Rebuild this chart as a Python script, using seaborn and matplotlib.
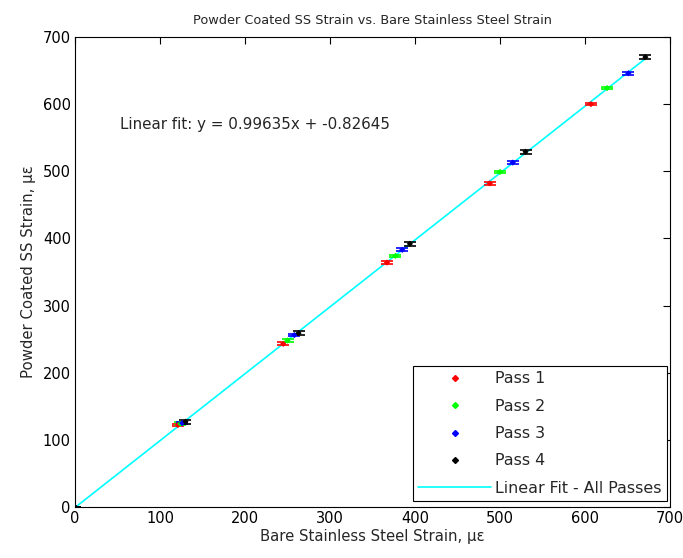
import numpy as np
import pandas as pd
import matplotlib
matplotlib.use("Agg")
import matplotlib.pyplot as plt
import seaborn as sns
from matplotlib.lines import Line2D

# bare steel strain (x) and powder coated strain (y), microstrain, per pass
bare_p1 = [0, 121, 245, 367, 488, 607]
coat_p1 = [0, 122, 243, 364, 482, 600]
bare_p2 = [0, 124, 250, 377, 500, 626]
coat_p2 = [0, 124, 248, 374, 499, 624]
bare_p3 = [0, 126, 258, 385, 515, 651]
coat_p3 = [0, 125, 256, 383, 513, 646]
bare_p4 = [0, 130, 263, 394, 530, 671]
coat_p4 = [0, 127, 259, 392, 529, 670]
err_p1 = [0, 2, 2, 2, 2, 2]
err_p2 = [0, 2, 2, 2, 2, 2]
err_p3 = [0, 2, 2, 2, 2, 2]
err_p4 = [0, 3, 3, 3, 3, 3]
pass_names = ["Pass 1", "Pass 2", "Pass 3", "Pass 4"]
pass_colors = ["#ff0000", "#00ff00", "#0000ff", "#000000"]
fit_slope = 0.99635
fit_icpt = -0.82645

bare = [bare_p1, bare_p2, bare_p3, bare_p4]
coat = [coat_p1, coat_p2, coat_p3, coat_p4]
errs = [err_p1, err_p2, err_p3, err_p4]

rows = []
for name, xs, ys, es in zip(pass_names, bare, coat, errs):
    for x, y, e in zip(xs, ys, es):
        rows.append({"bare": x, "coat": y, "err": e, "pass": name})
df = pd.DataFrame(rows)

sns.set_style("white")
plt.rcParams["font.family"] = ["DejaVu Sans"]
plt.rcParams["xtick.direction"] = "in"
plt.rcParams["ytick.direction"] = "in"

fig = plt.figure(figsize=(6.83, 5.58), dpi=100)
ax = fig.add_axes([0.1098, 0.0914, 0.8712, 0.8423])

# linear fit across all passes
xfit = np.array([df["bare"].min(), df["bare"].max()])
fit_df = pd.DataFrame({"x": xfit, "y": fit_slope * xfit + fit_icpt})
sns.lineplot(data=fit_df, x="x", y="y", color="#00ffff", lw=1.2, ax=ax,
             legend=False, zorder=1)

for name, c in zip(pass_names, pass_colors):
    sub = df[df["pass"] == name]
    ax.errorbar(sub["bare"], sub["coat"], yerr=sub["err"], fmt="none",
                ecolor=c, elinewidth=1.2, capsize=4, capthick=1.2, zorder=2)

sns.scatterplot(data=df, x="bare", y="coat", hue="pass", palette=pass_colors,
                marker="D", s=10, edgecolor="none", ax=ax, legend=False, zorder=3)

ax.set_xlim(0, 700)
ax.set_ylim(0, 700)
ax.set_xticks(range(0, 701, 100))
ax.set_yticks(range(0, 701, 100))
ax.tick_params(axis="both", which="both", top=True, right=True, length=5,
               width=0.8, colors="black", labelsize=10.5, pad=3)
for s in ax.spines.values():
    s.set_color("black")
    s.set_linewidth(0.8)

ax.set_title("Powder Coated SS Strain vs. Bare Stainless Steel Strain",
             fontsize=9.3, pad=9)
ax.set_xlabel("Bare Stainless Steel Strain, \u03bc\u03b5", fontsize=10.7, labelpad=2)
ax.set_ylabel("Powder Coated SS Strain, \u03bc\u03b5", fontsize=10.7, labelpad=5)

ax.text(53, 569, "Linear fit: y = %.5fx + %.5f" % (fit_slope, fit_icpt),
        fontsize=10.9, va="center")

handles = [Line2D([], [], ls="none", marker="D", ms=3, color=c, mec=c)
           for c in pass_colors]
handles.append(Line2D([], [], color="#00ffff", lw=1.2))
leg = ax.legend(handles, pass_names + ["Linear Fit - All Passes"],
                loc="lower right", fontsize=11.4, frameon=True, fancybox=False,
                edgecolor="black", framealpha=1, borderpad=0.35,
                labelspacing=0.78, handlelength=4.6, handletextpad=0.25,
                borderaxespad=0, bbox_to_anchor=(0.995, 0.012))
leg.get_frame().set_linewidth(0.8)

fig.savefig("out.png", dpi=100)
